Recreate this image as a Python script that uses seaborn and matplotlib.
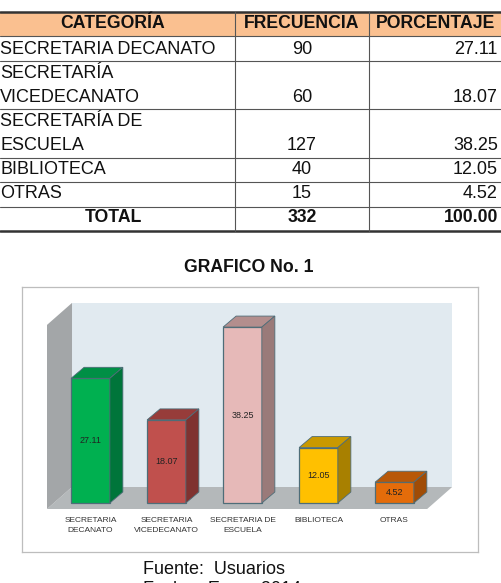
import matplotlib
matplotlib.use("Agg")
import matplotlib.pyplot as plt
from matplotlib.patches import Polygon, Rectangle
import seaborn as sns

# ---------------- data ----------------
table_header = ["CATEGORÍA", "FRECUENCIA", "PORCENTAJE"]
table_categories = [["SECRETARIA DECANATO"], ["SECRETARÍA", "VICEDECANATO"],
                    ["SECRETARÍA DE", "ESCUELA"], ["BIBLIOTECA"], ["OTRAS"]]
frequencies = [90, 60, 127, 40, 15]
percentages = ["27.11", "18.07", "38.25", "12.05", "4.52"]
total_freq = "332"
total_pct = "100.00"

chart_labels = ["SECRETARIA\nDECANATO", "SECRETARIA\nVICEDECANATO", "SECRETARIA DE\nESCUELA",
                "BIBLIOTECA", "OTRAS"]
chart_values = [27.11, 18.07, 38.25, 12.05, 4.52]
front_colors = ["#00B050", "#C0504D", "#E6B9B8", "#FFC000", "#E46C0A"]
side_colors = ["#00753A", "#7F3230", "#9A7A79", "#A88000", "#A04C06"]
top_colors = ["#008F45", "#973C3A", "#B38E8D", "#C99900", "#B85808"]

sns.set_theme(style="white")
plt.rcParams['font.family'] = ['Liberation Sans', 'DejaVu Sans']

W, H = 502, 583
fig = plt.figure(figsize=(W / 100, H / 100), dpi=100)

# ---------------- table (pixel coordinate overlay) ----------------
at = fig.add_axes([0, 0, 1, 1])
at.set_xlim(0, W)
at.set_ylim(H, 0)
at.axis("off")

fs = 13
row_bounds = [12, 36, 61, 109, 158, 182, 207, 231]
at.add_patch(Rectangle((0, row_bounds[0]), W, row_bounds[1] - row_bounds[0],
                       facecolor="#FAC090", edgecolor="none", zorder=0))
for i, yb in enumerate(row_bounds):
    lw = 1.8 if i in (0, len(row_bounds) - 1) else 0.8
    at.plot([0, W], [yb, yb], color="#333333" if lw > 1 else "#555555", lw=lw, zorder=2)
for xv in (235, 369):
    at.plot([xv, xv], [row_bounds[0], row_bounds[-1]], color="#555555", lw=0.8)

col_freq_x = 302
col_pct_x = 498
hdr_y = 23
at.text(113, hdr_y, table_header[0], ha="center", va="center", fontsize=fs - 0.3, fontweight="bold", color="#111111")
at.text(col_freq_x, hdr_y, table_header[1], ha="center", va="center", fontsize=fs - 0.3, fontweight="bold", color="#111111")
at.text(436, hdr_y, table_header[2], ha="center", va="center", fontsize=fs - 0.3, fontweight="bold", color="#111111")

line_ys = [[49], [73, 97], [122, 145], [169], [193]]
for cat_lines, ys, f, p in zip(table_categories, line_ys, frequencies, percentages):
    for txt, y in zip(cat_lines, ys):
        at.text(0, y, txt, ha="left", va="center", fontsize=fs, color="#111111")
    at.text(col_freq_x, ys[-1], str(f), ha="center", va="center", fontsize=fs, color="#111111")
    at.text(col_pct_x, ys[-1], p, ha="right", va="center", fontsize=fs, color="#111111")
at.text(113, 218, "TOTAL", ha="center", va="center", fontsize=fs - 0.3, fontweight="bold", color="#111111")
at.text(col_freq_x, 218, total_freq, ha="center", va="center", fontsize=fs - 0.3, fontweight="bold", color="#111111")
at.text(col_pct_x, 218, total_pct, ha="right", va="center", fontsize=fs - 0.3, fontweight="bold", color="#111111")

at.text(249, 267, "GRAFICO No. 1", ha="center", va="center", fontsize=fs - 0.3, fontweight="bold", color="#111111")
at.text(143, 570, "Fuente:  Usuarios", ha="left", va="center", fontsize=fs, color="#111111")
at.text(143, 590, "Fecha:  Enero 2014", ha="left", va="center", fontsize=fs, color="#111111")

# ---------------- 3D-like bar chart ----------------
ax = fig.add_axes([22 / W, (H - 552) / H, 456 / W, 265 / H])
sns.barplot(x=chart_labels, y=chart_values, hue=chart_labels, palette=front_colors, saturation=1,
            width=0.51, edgecolor="#4E6D78", linewidth=0.9, legend=False, ax=ax, zorder=3)

ax.set_xlim(-0.901, 5.099)
ax.set_ylim(-10.65, 46.96)
ax.set_xticks([])
ax.set_yticks([])
ax.set_xlabel("")
ax.set_ylabel("")
for s in ax.spines.values():
    s.set_visible(True)
    s.set_color("#BDBDBD")
    s.set_linewidth(0.9)

# walls / floor
fx0, fx1, fy = -0.572, 4.43, -1.3
wdx, wdy = 0.329, 4.78
wall_top = 43.5
ax.add_patch(Rectangle((fx0 + wdx, fy + wdy), (fx1 - fx0), wall_top - (fy + wdy),
                       facecolor="#E1EAF0", edgecolor="none", zorder=0))
ax.add_patch(Polygon([(fx0, fy), (fx1, fy), (fx1 + wdx, fy + wdy), (fx0 + wdx, fy + wdy)],
                     closed=True, facecolor="#B4B8BA", edgecolor="none", zorder=1))
ax.add_patch(Polygon([(fx0, fy), (fx0 + wdx, fy + wdy), (fx0 + wdx, wall_top), (fx0, wall_top - wdy)],
                     closed=True, facecolor="#A3A6A8", edgecolor="none", zorder=1))

dx, dy = 0.171, 2.39
bars = [p for p in ax.patches if isinstance(p, Rectangle) and p.get_zorder() == 3]
bars = sorted(bars, key=lambda p: p.get_x())
for i, (p, v) in enumerate(zip(bars, chart_values)):
    x0 = p.get_x()
    x1 = x0 + p.get_width()
    h = p.get_height()
    ax.add_patch(Polygon([(x0, h), (x1, h), (x1 + dx, h + dy), (x0 + dx, h + dy)], closed=True,
                         facecolor=top_colors[i], edgecolor="#4E6D78", lw=0.6, zorder=3))
    ax.add_patch(Polygon([(x1, 0), (x1 + dx, dy), (x1 + dx, h + dy), (x1, h)], closed=True,
                         facecolor=side_colors[i], edgecolor="#4E6D78", lw=0.6, zorder=3))
    ax.text((x0 + x1) / 2, h / 2, f"{v:.2f}", ha="center", va="center", fontsize=6.5,
            color="#222222", zorder=4)
    ax.text((x0 + x1) / 2, -3.0, chart_labels[i], ha="center", va="top", fontsize=6,
            color="#333333", linespacing=1.6, zorder=4)

fig.savefig("out.png", dpi=100)
